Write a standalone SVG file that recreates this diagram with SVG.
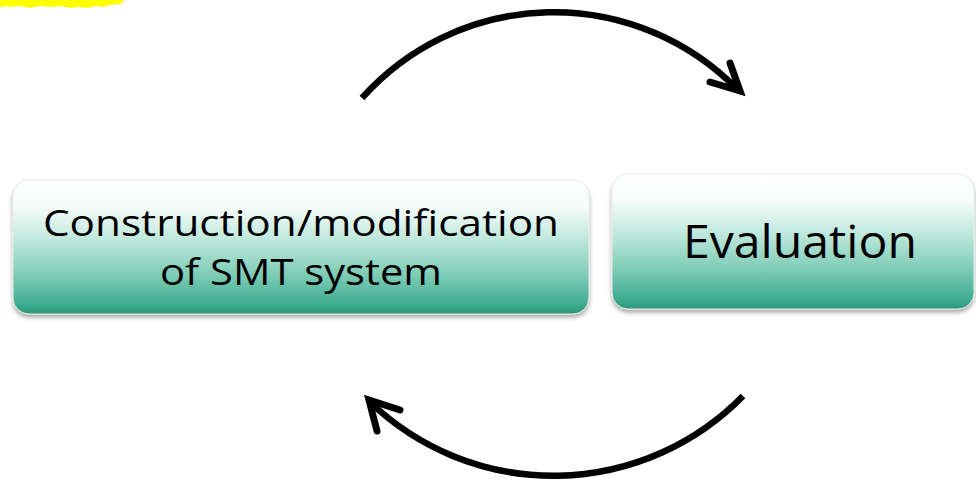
<svg xmlns="http://www.w3.org/2000/svg" width="976" height="482" viewBox="0 0 976 482">
<defs>
<linearGradient id="g" x1="0" y1="0" x2="0" y2="1">
<stop offset="0" stop-color="#ffffff"/>
<stop offset="0.2" stop-color="#f6fcfa"/>
<stop offset="0.42" stop-color="#c4eadf"/>
<stop offset="0.7" stop-color="#80cdb7"/>
<stop offset="0.93" stop-color="#3dac8e"/>
<stop offset="1" stop-color="#2d9478"/>
</linearGradient>
<filter id="sh" x="-5%" y="-10%" width="110%" height="125%">
<feDropShadow dx="0" dy="3" stdDeviation="2.2" flood-color="#000" flood-opacity="0.35"/>
</filter>
<style>
.box{fill:url(#g);stroke:#e6ece9;stroke-width:1;filter:url(#sh)}
.lbl{font-family:"Open Sans","Noto Sans",sans-serif;fill:#000;text-anchor:middle}
.arc{fill:none;stroke:#000;stroke-width:6.5}
.head{fill:none;stroke:#000;stroke-width:7;stroke-linecap:round;stroke-linejoin:miter}
</style>
</defs>
<rect width="976" height="482" fill="#fff"/>
<path d="M0,0 H124 L121,4 L110,5 L104,7 L96,6 L88,8 L78,7 L70,8 L60,6 L50,7 L40,6 L30,8 L20,6 L10,7 L3,6 L0,8 Z" fill="#ffff00"/>
<g id="node-construction">
<rect class="box" x="13" y="180" width="576" height="134" rx="16"/>
<text class="lbl" x="301" y="236" font-size="36" textLength="516" lengthAdjust="spacingAndGlyphs">Construction/modification</text>
<text class="lbl" x="301" y="285" font-size="36" textLength="282" lengthAdjust="spacingAndGlyphs">of SMT system</text>
</g>
<g id="node-evaluation">
<rect class="box" x="612" y="174" width="362" height="135" rx="16"/>
<text class="lbl" x="800" y="258" font-size="46" textLength="234" lengthAdjust="spacingAndGlyphs">Evaluation</text>
</g>
<g id="connectors">
<path class="arc" d="M362,98 A257,257 0 0,1 737,89"/>
<polyline class="head" points="730,63 740,91 710,82"/>
<path class="arc" d="M743,396 A265,265 0 0,1 370,402"/>
<polyline class="head" points="400,410 369,400 377,431"/>
</g>
</svg>
